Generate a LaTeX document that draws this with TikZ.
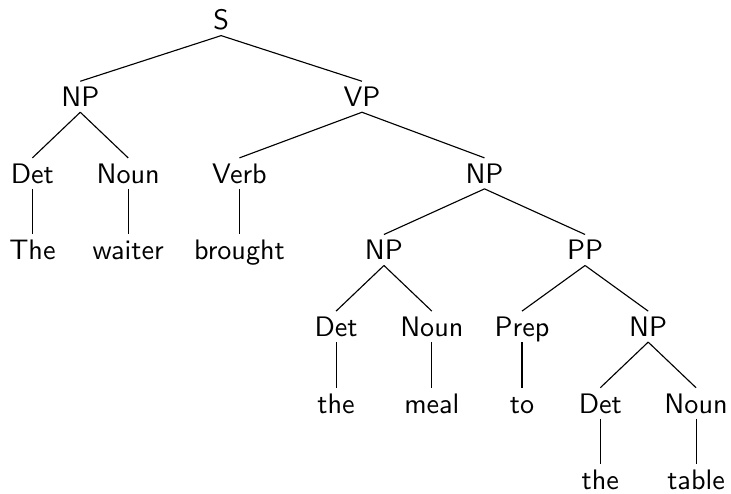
\documentclass[tikz,border=0pt]{standalone}
\usetikzlibrary{positioning}
\begin{document}
\begin{tikzpicture}[
    font=\sffamily,
    node distance=27.2pt and 17pt, on grid,
    every node/.style={text height=7pt, text depth=0pt, inner sep=1.8pt},
    branch/.style={line width=0.4pt}
  ]
  % fix the page size
  \useasboundingbox (-78.5pt,7.15pt) rectangle (181pt,-168.2pt);

  % root of the sentence
  \node (s) {S};
  \node [below left=27.2pt and 50pt of s] (np1) {NP};
  \node [below right=27.2pt and 50pt of s] (vp) {VP};

  % subject noun phrase
  \node [below left=of np1] (det1) {Det};
  \node [below right=of np1] (noun1) {Noun};
  \node [below=of det1] (the1) {The};
  \node [below=of noun1] (waiter) {waiter};

  % verb phrase
  \node [below left=27.2pt and 43.5pt of vp] (verb) {Verb};
  \node [below right=27.2pt and 43.5pt of vp] (np2) {NP};
  \node [below=of verb] (brought) {brought};

  % object noun phrase with attached PP
  \node [below left=27.2pt and 35.7pt of np2] (np3) {NP};
  \node [below right=27.2pt and 35.7pt of np2] (pp) {PP};
  \node [below left=of np3] (det2) {Det};
  \node [below right=of np3] (noun2) {Noun};
  \node [below=of det2] (the2) {the};
  \node [below=of noun2] (meal) {meal};

  % prepositional phrase
  \node [below left=27.2pt and 22.4pt of pp] (prep) {Prep};
  \node [below right=27.2pt and 22.4pt of pp] (np4) {NP};
  \node [below=of prep] (to) {to};
  \node [below left=of np4] (det3) {Det};
  \node [below right=of np4] (noun3) {Noun};
  \node [below=of det3] (the3) {the};
  \node [below=of noun3] (table) {table};

  % branches from parent to children
  \draw [branch] (s.south) -- (np1.north) (s.south) -- (vp.north);
  \draw [branch] (np1.south) -- (det1.north) (np1.south) -- (noun1.north);
  \draw [branch] (det1.south) -- (the1.north) (noun1.south) -- (waiter.north);
  \draw [branch] (vp.south) -- (verb.north) (vp.south) -- (np2.north);
  \draw [branch] (verb.south) -- (brought.north);
  \draw [branch] (np2.south) -- (np3.north) (np2.south) -- (pp.north);
  \draw [branch] (np3.south) -- (det2.north) (np3.south) -- (noun2.north);
  \draw [branch] (det2.south) -- (the2.north) (noun2.south) -- (meal.north);
  \draw [branch] (pp.south) -- (prep.north) (pp.south) -- (np4.north);
  \draw [branch] (prep.south) -- (to.north);
  \draw [branch] (np4.south) -- (det3.north) (np4.south) -- (noun3.north);
  \draw [branch] (det3.south) -- (the3.north) (noun3.south) -- (table.north);
\end{tikzpicture}
\end{document}
